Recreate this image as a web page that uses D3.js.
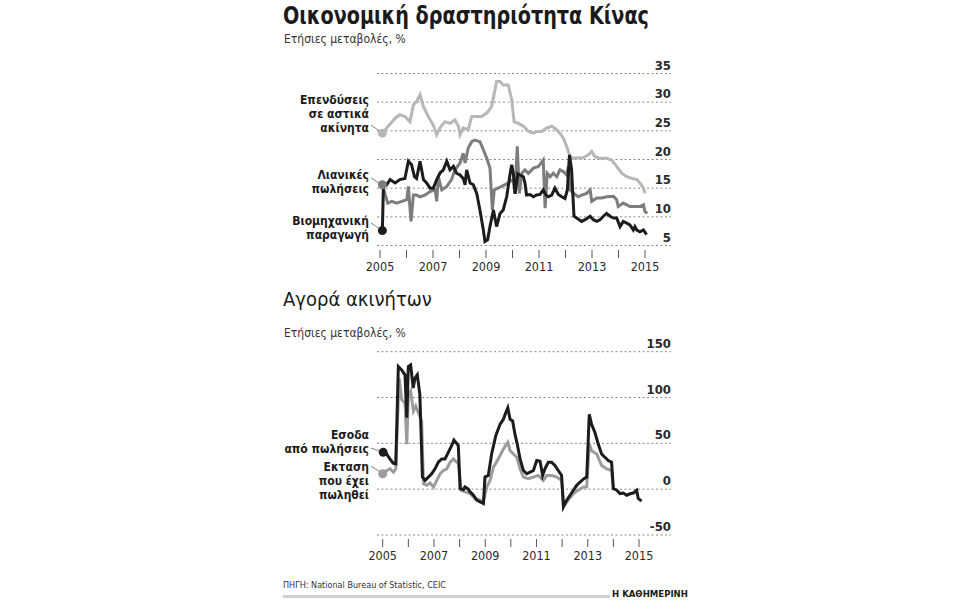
<!DOCTYPE html>
<html>
<head>
<meta charset="utf-8">
<script src="https://cdn.jsdelivr.net/npm/d3@7"></script>
<style>
  body { margin: 0; background: #fff; }
  text { font-family: "Liberation Sans Narrow", "DejaVu Sans Condensed", Roboto, sans-serif; }
</style>
</head>
<body>
<div id="chart"></div>
<script>
// data, [decimal year, annual change %]
var investData = [[2005.09,24.6],[2005.31,25.8],[2005.57,27.2],[2005.75,27.8],[2005.94,27.5],[2006.13,26.6],[2006.26,29.5],[2006.38,30.1],[2006.51,31.3],[2006.64,29.2],[2006.82,27.5],[2007.01,26.0],[2007.14,24.3],[2007.26,25.5],[2007.45,26.6],[2007.64,26.3],[2007.83,26.9],[2007.96,25.8],[2008.02,24.3],[2008.14,25.5],[2008.33,25.2],[2008.46,27.5],[2008.65,27.5],[2008.84,27.5],[2009.03,28.1],[2009.21,29.2],[2009.40,33.6],[2009.53,33.6],[2009.65,33.0],[2009.84,33.0],[2009.97,30.4],[2010.06,26.6],[2010.22,26.3],[2010.41,25.8],[2010.60,24.9],[2010.79,24.6],[2010.91,24.9],[2011.10,24.9],[2011.29,25.5],[2011.48,25.8],[2011.67,25.2],[2011.79,24.6],[2011.92,23.7],[2012.04,22.3],[2012.17,20.5],[2012.30,20.2],[2012.48,20.3],[2012.67,20.3],[2012.86,20.8],[2012.99,21.4],[2013.11,20.5],[2013.30,20.2],[2013.55,20.2],[2013.74,19.9],[2013.93,18.8],[2014.12,17.6],[2014.31,17.0],[2014.50,16.7],[2014.69,16.5],[2014.81,15.9],[2014.94,15.0],[2015.00,14.1]];

var retailData = [[2005.09,15.6],[2005.29,12.4],[2005.44,12.7],[2005.63,12.4],[2005.82,12.7],[2006.01,13.0],[2006.07,15.3],[2006.17,9.2],[2006.26,13.8],[2006.38,13.8],[2006.51,13.5],[2006.70,13.8],[2006.89,14.4],[2007.08,14.7],[2007.14,12.7],[2007.20,17.0],[2007.33,14.7],[2007.52,15.3],[2007.70,16.5],[2007.83,18.2],[2008.02,19.4],[2008.14,21.1],[2008.21,19.4],[2008.33,22.0],[2008.46,23.1],[2008.58,23.4],[2008.77,23.1],[2008.90,21.7],[2009.03,20.2],[2009.15,18.5],[2009.24,11.2],[2009.31,14.7],[2009.59,15.3],[2009.84,15.9],[2009.91,16.2],[2010.03,16.5],[2010.09,14.1],[2010.18,22.3],[2010.26,14.1],[2010.35,17.6],[2010.47,18.2],[2010.60,17.6],[2010.79,18.5],[2010.98,18.8],[2011.16,19.9],[2011.23,11.5],[2011.31,17.6],[2011.42,17.0],[2011.54,17.6],[2011.67,17.0],[2011.79,18.2],[2011.92,17.9],[2012.04,17.3],[2012.11,18.8],[2012.17,14.7],[2012.30,14.1],[2012.48,13.5],[2012.61,13.8],[2012.80,14.1],[2012.93,14.7],[2012.99,12.7],[2013.18,13.3],[2013.37,13.3],[2013.55,13.5],[2013.81,13.6],[2013.93,13.0],[2013.99,11.8],[2014.18,12.4],[2014.31,12.1],[2014.43,11.8],[2014.62,11.8],[2014.81,11.8],[2014.94,12.1],[2015.00,10.9],[2015.09,10.6]];

var industryData = [[2005.09,7.6],[2005.13,15.9],[2005.25,15.6],[2005.38,16.5],[2005.57,15.9],[2005.75,16.5],[2005.94,16.7],[2006.07,19.7],[2006.19,19.1],[2006.30,17.0],[2006.38,16.7],[2006.51,19.7],[2006.64,16.5],[2006.76,15.9],[2006.89,15.0],[2007.01,15.0],[2007.14,16.5],[2007.26,17.6],[2007.39,18.2],[2007.52,19.7],[2007.64,18.2],[2007.77,18.8],[2007.89,17.6],[2008.02,17.3],[2008.14,16.7],[2008.21,15.6],[2008.27,18.2],[2008.40,15.9],[2008.52,15.6],[2008.65,14.1],[2008.77,11.2],[2008.90,7.7],[2008.96,5.7],[2009.06,6.0],[2009.15,8.3],[2009.28,11.2],[2009.40,8.3],[2009.53,10.6],[2009.65,11.2],[2009.78,13.5],[2009.91,17.5],[2009.97,19.1],[2010.03,17.6],[2010.10,14.0],[2010.20,17.5],[2010.28,17.3],[2010.41,17.0],[2010.47,15.9],[2010.53,13.8],[2010.66,13.9],[2010.79,13.5],[2010.91,13.8],[2011.04,13.9],[2011.16,14.7],[2011.26,13.8],[2011.35,13.5],[2011.48,13.8],[2011.60,15.0],[2011.73,13.9],[2011.86,13.5],[2011.98,13.2],[2012.07,14.7],[2012.15,20.8],[2012.23,18.2],[2012.32,10.1],[2012.42,9.8],[2012.61,9.2],[2012.74,9.5],[2012.93,10.1],[2013.05,9.5],[2013.18,9.2],[2013.30,9.5],[2013.43,10.1],[2013.55,10.6],[2013.68,10.1],[2013.81,9.8],[2013.93,9.8],[2014.06,8.3],[2014.18,9.2],[2014.31,8.9],[2014.43,8.6],[2014.56,7.7],[2014.62,8.3],[2014.69,7.7],[2014.81,7.4],[2014.94,7.7],[2015.06,6.9]];

var revenueData = [[2005.02,40.2],[2005.15,38.4],[2005.28,33.0],[2005.41,28.3],[2005.51,27.6],[2005.61,133.8],[2005.74,130.2],[2005.87,124.8],[2005.94,78.0],[2006.00,133.8],[2006.09,135.6],[2006.19,110.4],[2006.26,121.2],[2006.35,124.8],[2006.45,103.2],[2006.55,13.2],[2006.65,9.6],[2006.78,13.2],[2006.91,16.8],[2007.04,22.2],[2007.17,29.4],[2007.30,33.0],[2007.43,33.0],[2007.56,40.2],[2007.69,47.4],[2007.78,53.5],[2007.89,49.9],[2007.95,47.4],[2008.02,0.6],[2008.15,-0.5],[2008.21,2.4],[2008.34,0.0],[2008.41,-3.0],[2008.54,-6.6],[2008.67,-12.0],[2008.80,-13.8],[2008.93,-15.6],[2008.99,13.2],[2009.12,15.0],[2009.25,38.4],[2009.41,58.2],[2009.58,70.8],[2009.71,76.2],[2009.80,83.4],[2009.88,88.8],[2009.97,76.2],[2010.07,74.4],[2010.16,60.0],[2010.25,49.2],[2010.36,33.0],[2010.49,20.4],[2010.62,16.8],[2010.75,18.6],[2010.88,20.4],[2011.01,31.2],[2011.14,30.5],[2011.24,15.0],[2011.33,22.2],[2011.46,29.4],[2011.59,29.4],[2011.72,25.8],[2011.85,20.4],[2011.98,15.0],[2012.05,-19.2],[2012.18,-12.0],[2012.31,-6.6],[2012.44,-1.2],[2012.57,4.2],[2012.70,7.8],[2012.85,11.4],[2012.96,13.2],[2013.06,81.6],[2013.15,70.8],[2013.28,61.8],[2013.41,49.2],[2013.54,38.4],[2013.67,34.8],[2013.80,31.2],[2013.93,29.4],[2014.00,0.6],[2014.13,-1.2],[2014.26,-4.8],[2014.39,-4.2],[2014.52,-6.6],[2014.65,-5.0],[2014.78,-4.2],[2014.91,-1.2],[2014.97,-10.2],[2015.10,-13.0]];

var areaData = [[2005.00,16.8],[2005.16,20.4],[2005.29,22.2],[2005.42,18.6],[2005.51,22.2],[2005.64,121.2],[2005.74,97.8],[2005.87,94.2],[2005.94,49.2],[2006.00,101.4],[2006.09,106.8],[2006.20,85.2],[2006.29,90.6],[2006.39,83.4],[2006.52,74.4],[2006.59,6.0],[2006.72,4.2],[2006.85,6.7],[2006.98,2.4],[2007.11,9.6],[2007.24,16.8],[2007.37,20.4],[2007.50,22.2],[2007.63,29.4],[2007.76,33.0],[2007.89,29.4],[2007.95,29.4],[2008.06,-1.2],[2008.21,-3.0],[2008.41,-4.8],[2008.60,-10.2],[2008.80,-12.0],[2008.93,-13.8],[2009.06,2.4],[2009.19,9.6],[2009.32,24.0],[2009.51,33.0],[2009.71,43.8],[2009.88,51.0],[2009.97,42.0],[2010.10,38.4],[2010.23,34.8],[2010.36,22.2],[2010.49,13.2],[2010.68,11.4],[2010.88,13.2],[2011.07,15.0],[2011.27,9.6],[2011.40,15.0],[2011.59,15.0],[2011.79,13.2],[2011.98,9.6],[2012.07,-18.5],[2012.24,-12.0],[2012.44,-4.8],[2012.63,-1.2],[2012.83,2.4],[2012.96,2.4],[2013.06,49.2],[2013.15,42.0],[2013.35,38.4],[2013.54,25.8],[2013.74,22.2],[2013.93,20.4],[2014.00,-1.0]];

var topTicks = [5, 10, 15, 20, 25, 30, 35];
var bottomTicks = [-50, 0, 50, 100, 150];
var yearTicks = [2005, 2006, 2007, 2008, 2009, 2010, 2011, 2012, 2013, 2014, 2015];
var yearLabels = [2005, 2007, 2009, 2011, 2013, 2015];

var w = 960, h = 600;
var svg = d3.select("#chart").append("svg").attr("width", w).attr("height", h);

// titles
svg.append("text").attr("x", 283).attr("y", 24)
    .style("font-size", "25px").style("font-weight", "bold").style("fill", "#1a1a1a")
    .attr("textLength", 366).attr("lengthAdjust", "spacingAndGlyphs")
    .text("Οικονομική δραστηριότητα Κίνας");
svg.append("text").attr("x", 284).attr("y", 43)
    .style("font-size", "12px").style("fill", "#333")
    .text("Ετήσιες μεταβολές, %");

svg.append("text").attr("x", 283).attr("y", 306)
    .style("font-size", "20px").style("fill", "#1a1a1a")
    .text("Αγορά ακινήτων");
svg.append("text").attr("x", 284).attr("y", 337)
    .style("font-size", "12px").style("fill", "#333")
    .text("Ετήσιες μεταβολές, %");

// draws one panel: gridlines, value labels, year ticks, lines, start dots + labels
function drawPanel(cfg) {
    var g = svg.append("g");
    var x = d3.scaleLinear().domain([2005, 2015]).range(cfg.xRange);
    var y = d3.scaleLinear().domain(cfg.yDomain).range(cfg.yRange);

    g.selectAll(".grid").data(cfg.ticks).enter().append("line")
        .attr("x1", 377).attr("x2", 671)
        .attr("y1", d => y(d)).attr("y2", d => y(d))
        .style("stroke", "#8a8a8a").style("stroke-width", 1)
        .style("stroke-dasharray", "2,2.5");

    g.selectAll(".vlab").data(cfg.ticks).enter().append("text")
        .attr("x", 671).attr("y", d => y(d) - 4)
        .attr("text-anchor", "end")
        .style("font-size", "13px").style("font-weight", "bold").style("fill", "#2a2a2a")
        .text(d => d);

    g.selectAll(".tick").data(yearTicks).enter().append("line")
        .attr("x1", d => x(d)).attr("x2", d => x(d))
        .attr("y1", cfg.tickY).attr("y2", cfg.tickY + 8)
        .style("stroke", "#555").style("stroke-width", 1);

    g.selectAll(".ylab").data(yearLabels).enter().append("text")
        .attr("x", d => x(d)).attr("y", cfg.tickY + 21)
        .attr("text-anchor", "middle")
        .style("font-size", "12.5px").style("fill", "#2a2a2a")
        .text(d => d);

    var line = d3.line().x(d => x(d[0])).y(d => y(d[1])).curve(d3.curveLinear);

    cfg.series.forEach(s => {
        g.append("path").datum(s.data)
            .attr("d", line)
            .style("fill", "none").style("stroke", s.color)
            .style("stroke-width", 3).style("stroke-linejoin", "miter");
    });

    cfg.series.forEach(s => {
        var p = s.data[0];
        var cx = x(p[0]), cy = y(p[1]);
        g.append("line") // leader from label to start dot
            .attr("x1", 371).attr("y1", s.leadY)
            .attr("x2", cx).attr("y2", cy)
            .style("stroke", "#666").style("stroke-width", 0.8);
        g.append("circle").attr("cx", cx).attr("cy", cy).attr("r", 4.5)
            .style("fill", s.color);
        s.label.forEach((t, i) => {
            g.append("text").attr("x", 369).attr("y", s.labelY + i * 14)
                .attr("text-anchor", "end")
                .style("font-size", "12px").style("font-weight", "bold").style("fill", "#1a1a1a")
                .text(t);
        });
    });
}

drawPanel({
    xRange: [380, 645], yDomain: [5, 35], yRange: [245.5, 73.5],
    ticks: topTicks, tickY: 250,
    series: [
        { data: investData, color: "#b7b7b7", label: ["Επενδύσεις", "σε αστικά", "ακίνητα"], labelY: 104, leadY: 125 },
        { data: retailData, color: "#7d7d7d", label: ["Λιανικές", "πωλήσεις"], labelY: 179, leadY: 178 },
        { data: industryData, color: "#1c1c1c", label: ["Βιομηχανική", "παραγωγή"], labelY: 225, leadY: 223 }
    ]
});

drawPanel({
    xRange: [382.7, 639], yDomain: [-50, 150], yRange: [535, 351.7],
    ticks: bottomTicks, tickY: 539,
    series: [
        { data: areaData, color: "#9c9c9c", label: ["Εκταση", "που έχει", "πωληθεί"], labelY: 471, leadY: 466 },
        { data: revenueData, color: "#1c1c1c", label: ["Εσοδα", "από πωλήσεις"], labelY: 439, leadY: 448 }
    ]
});

// footer
svg.append("text").attr("x", 283).attr("y", 588)
    .style("font-size", "9px").style("fill", "#333")
    .text("ΠΗΓΗ: National Bureau of Statistic, CEIC");
svg.append("rect").attr("x", 283).attr("y", 595).attr("width", 327).attr("height", 3)
    .style("fill", "#d0d0d0");
svg.append("text").attr("x", 612).attr("y", 597)
    .style("font-size", "9.5px").style("font-weight", "bold").style("fill", "#1a1a1a")
    .text("Η ΚΑΘΗΜΕΡΙΝΗ");
</script>
</body>
</html>
